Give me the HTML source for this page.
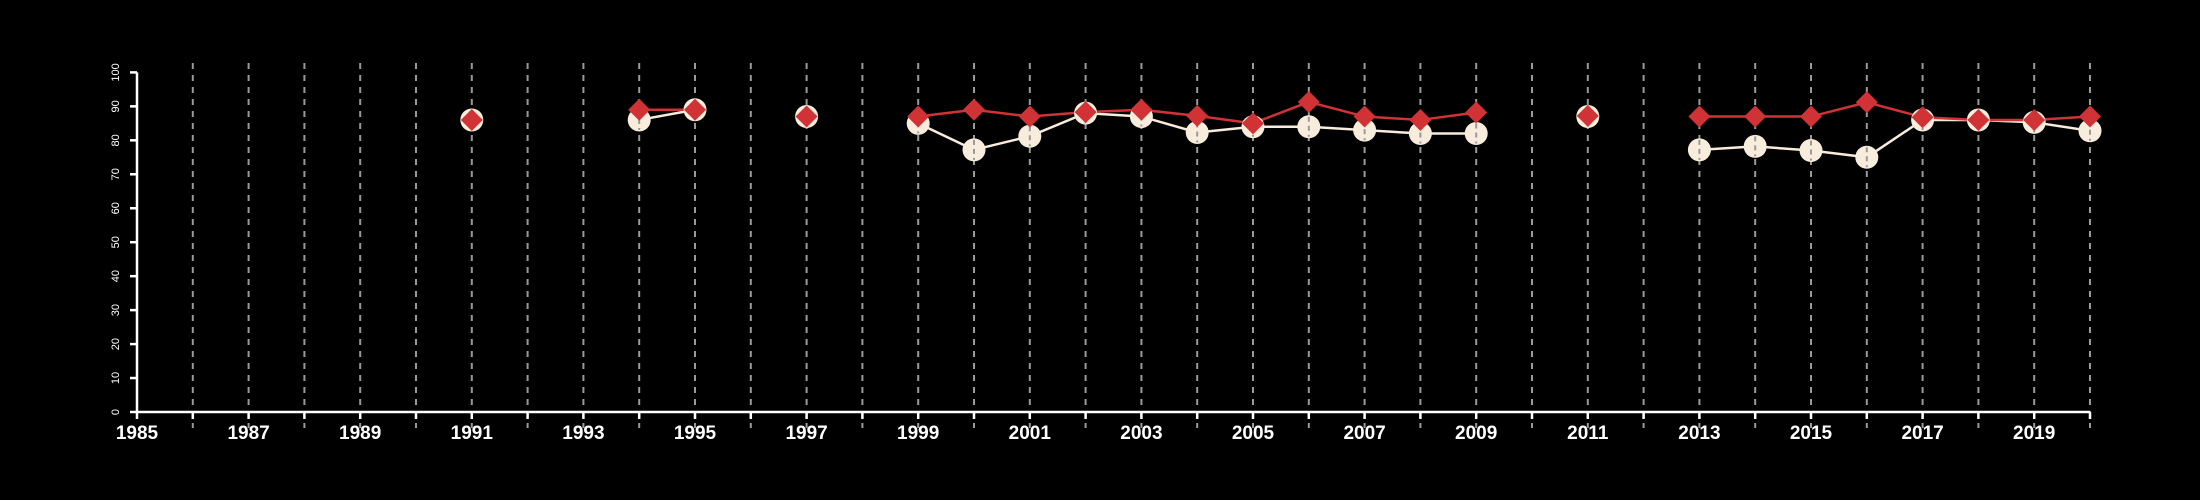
<!DOCTYPE html>
<html><head><meta charset="utf-8"><style>
html,body{margin:0;padding:0;background:#000;}
svg{display:block;font-family:"Liberation Sans",sans-serif;}
</style></head><body>
<svg id="chart" width="2200" height="500" viewBox="0 0 2200 500">
<rect width="2200" height="500" fill="#000"/>
<g id="grid"></g><g id="axes"></g><g id="series"></g>
</svg>
<script>
const years = [1991,1994,1995,1997,1999,2000,2001,2002,2003,2004,2005,2006,2007,2008,2009,2011,2013,2014,2015,2016,2017,2018,2019,2020];
const redValues = [86,89,89,87,87,89,87,88.3,89,87.2,85,91.3,87,86,88.2,87.2,87,87,87,91.2,86.8,86,86,87];
const creamValues = [86,86,89,87,85,77.2,81.2,88,87,82.3,84,84,83,82,82,87,77.2,78.2,77,75,86,86,85.3,82.8];
const yTicks = [0,10,20,30,40,50,60,70,80,90,100];
const xLabels = [1985,1987,1989,1991,1993,1995,1997,1999,2001,2003,2005,2007,2009,2011,2013,2015,2017,2019];

const NS="http://www.w3.org/2000/svg";
function xs(y){return 137+55.8*(y-1985);}
function ys(v){return 412-3.396*v;}
function mk(tag,attrs,parent){const e=document.createElementNS(NS,tag);for(const k in attrs)e.setAttribute(k,attrs[k]);parent.appendChild(e);return e;}
const grid=document.getElementById('grid'),axes=document.getElementById('axes'),ser=document.getElementById('series');
for(let y=1986;y<=2020;y++){
  const l=mk('line',{x1:xs(y),x2:xs(y),y1:63,y2:428,stroke:'#9a9a9a','stroke-width':2,'stroke-dasharray':'6 6'},grid);
  
  
}
const xa=mk('line',{x1:xs(1985),x2:xs(2020),y1:412,y2:412,stroke:'#fff','stroke-width':2.5},axes);


for(let y=1985;y<=2020;y++){
  const t=mk('line',{x1:xs(y),x2:xs(y),y1:412,y2:419,stroke:'#fff','stroke-width':2.5},axes);
  
  
}
xLabels.forEach(y=>{
  const t=mk('text',{x:xs(y),y:439,fill:'#fff','font-size':19,'font-weight':'bold','text-anchor':'middle'},axes);
  t.textContent=y;
  
  
});
const ya=mk('line',{x1:137,x2:137,y1:ys(0),y2:ys(100),stroke:'#fff','stroke-width':2.5},axes);


yTicks.forEach(v=>{
  const t=mk('line',{x1:130,x2:137,y1:ys(v),y2:ys(v),stroke:'#fff','stroke-width':2.5},axes);
  
  
  const tx=mk('text',{x:0,y:0,fill:'#fff','font-size':11,'text-anchor':'middle',transform:`translate(119,${ys(v)}) rotate(-90)`},axes);
  tx.textContent=v;
  
  
});
function drawLines(vals,color,w,name){
  for(let i=1;i<years.length;i++){
    if(years[i]-years[i-1]===1){
      const l=mk('line',{x1:xs(years[i-1]),y1:ys(vals[i-1]),x2:xs(years[i]),y2:ys(vals[i]),stroke:color,'stroke-width':w},ser);
      
      
    }
  }
}
drawLines(creamValues,'#f8ecdc',2.5,'cream-series-line');
drawLines(redValues,'#d03236',2.5,'red-series-line');
creamValues.forEach((v,i)=>{
  const c=mk('circle',{cx:xs(years[i]),cy:ys(v),r:11.5,fill:'#f8ecdc'},ser);
  
  
  mk('line',{x1:xs(years[i]),x2:xs(years[i]),y1:ys(v)-10,y2:ys(v)+10,stroke:'#9a9a9a','stroke-width':2,'stroke-dasharray':'5 4'},ser);
});
redValues.forEach((v,i)=>{
  const x=xs(years[i]),y=ys(v),s=11;
  const p=mk('polygon',{points:`${x},${y-s} ${x+s},${y} ${x},${y+s} ${x-s},${y}`,fill:'#d03236'},ser);
  
  
});
</script>
</body></html>
